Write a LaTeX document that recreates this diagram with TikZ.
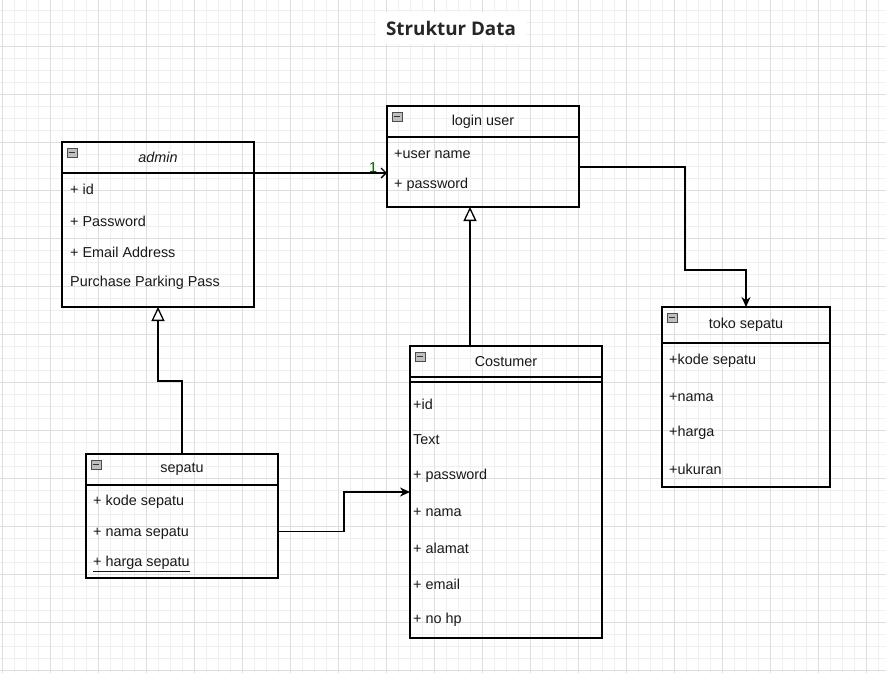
\documentclass[tikz,border=0pt]{standalone}
\usepackage{fontspec}
\setmainfont{Liberation Sans}
\newfontfamily\titlefont{Open Sans}
\usepackage{tikz}
\usetikzlibrary{positioning,calc,arrows,arrows.meta}
\tikzstyle{head} = [draw=black, line width=1.3pt, anchor=north west, minimum width=192pt, minimum height=31pt, inner sep=0pt, outer sep=0pt, font=\fontsize{14.4}{17}\selectfont, text=black!90]
\tikzstyle{body} = [draw=black, line width=1.3pt, anchor=north west, minimum width=192pt, inner sep=0pt, outer sep=0pt]
\tikzstyle{attr} = [anchor=west, inner sep=0pt, font=\fontsize{14.4}{17}\selectfont, text=black!90]
\tikzstyle{icon} = [draw=gray!60!black, fill=gray!50, line width=0.7pt]
\tikzstyle{minorgrid} = [draw=black!6, line width=0.8pt]
\tikzstyle{majorgrid} = [draw=black!13, line width=0.9pt]
\tikzstyle{flow} = [line width=1.3pt, -{Stealth[length=10pt,width=9pt]}]
\tikzstyle{inherit} = [line width=1.3pt, -{Triangle[open,length=14pt,width=13pt,fill=white]}]
\tikzstyle{assoc} = [line width=1.3pt, -{Straight Barb[length=5pt,width=10pt]}]

\begin{document}
\begin{tikzpicture}[x=1pt, y=-1pt]
            \fill[white] (0,0) rectangle (886,673);
            \useasboundingbox (0,0) rectangle (886,673);
            % grid
            \foreach \x in {2,14,...,886} \draw[minorgrid] (\x,0) -- (\x,673);
            \foreach \y in {10,22,...,673} \draw[minorgrid] (0,\y) -- (886,\y);
            \foreach \x in {2,50,...,886} \draw[majorgrid] (\x,0) -- (\x,673);
            \foreach \y in {46,94,...,673} \draw[majorgrid] (0,\y) -- (886,\y);

            \node[fill=white, inner xsep=10pt, inner ysep=9pt, text=black!85, font=\titlefont\bfseries\fontsize{18.8}{22}\selectfont] (title) at (451,28) {Struktur Data};

            % admin
            \node[head] (admin) at (62,142) {\textit{admin}};
            \node[body, minimum height=134pt] (adminbody) at (admin.south west) {};
            \node[attr] at (70,189) {+ id};
            \node[attr] at (70,221) {+ Password};
            \node[attr] at (70,252) {+ Email Address};
            \node[attr] at (70,283) {Purchase Parking Pass};

            % login user
            \node[head] (login) at (387,106) {login user};
            \node[body, minimum height=70pt] (loginbody) at (login.south west) {};
            \node[attr] at (394,154) {+user name};
            \node[attr] at (394,185) {+ password};

            % toko sepatu
            \node[head, minimum width=168pt, minimum height=36pt] (toko) at (662,307) {toko sepatu};
            \node[body, minimum width=168pt, minimum height=144pt] (tokobody) at (toko.south west) {};
            \node[attr] at (669,361) {+kode sepatu};
            \node[attr] at (669,397) {+nama};
            \node[attr] at (669,433) {+harga};
            \node[attr] at (669,469) {+ukuran};

            % costumer
            \node[head] (costumer) at (410,346) {Costumer};
            \node[body, minimum height=261pt] (costumerbody) at (costumer.south west) {};
            \draw[line width=1.3pt] ($(costumerbody.north west)+(0,5)$) -- ($(costumerbody.north east)+(0,5)$);
            \node[attr] at (413,404) {+id};
            \node[attr] at (413,440) {Text};
            \node[attr] at (413,476) {+ password};
            \node[attr] at (413,512) {+ nama};
            \node[attr] at (413,548) {+ alamat};
            \node[attr] at (413,584) {+ email};
            \node[attr] at (413,620) {+ no hp};

            % sepatu
            \node[head] (sepatu) at (86,454) {sepatu};
            \node[body, minimum height=93pt] (sepatubody) at (sepatu.south west) {};
            \node[attr] at (93,502) {+ kode sepatu};
            \node[attr] at (93,533) {+ nama sepatu};
            \node[attr] at (93,564) {\underline{+ harga sepatu}};

            % collapse icons
            \foreach \c in {admin,login,toko,costumer,sepatu} {
                \draw[icon] ($(\c.north west)+(5,6)$) rectangle ++(10,9);
                \draw[black!80, line width=1pt] ($(\c.north west)+(7,10.5)$) -- ++(6,0);
            }

            % connectors
            \draw[assoc] (admin.south east) -- (admin.south east -| loginbody.west) coordinate (a1);
            \node[text=green!35!black, font=\fontsize{14.4}{17}\selectfont, inner sep=0pt] at ($(a1)+(-14,-5)$) {1};

            \coordinate (b1) at (685,270);
            \draw[flow] ($(loginbody.east)+(0,-5)$) -| (b1) -| (toko.north);

            \draw[inherit] ($(costumer.north)+(-36,0)$) coordinate (c1) -- (c1 |- loginbody.south);

            \coordinate (b2) at (158,381);
            \draw[inherit] (sepatu.north) |- (b2) -- (adminbody.south);

            \coordinate (b3) at (344,492);
            \draw[flow] (sepatubody.east) -| (b3) -- (b3 -| costumerbody.west);
            \end{tikzpicture}
\end{document}
